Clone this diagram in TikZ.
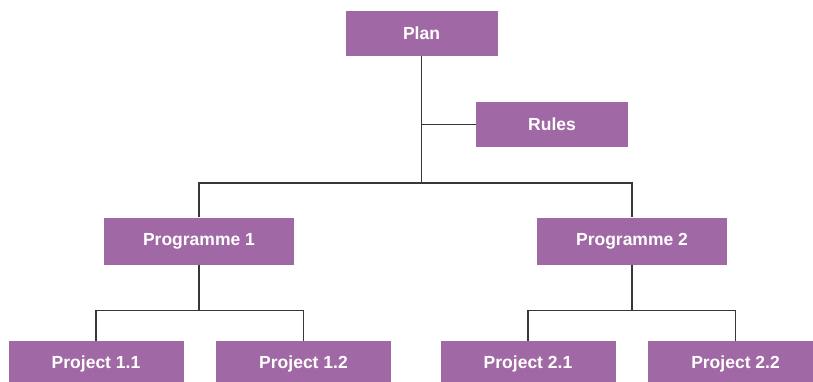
\documentclass[tikz,border=0pt]{standalone}
\usepackage{fontspec}
\setmainfont{Liberation Sans}
\definecolor{boxpurple}{RGB}{160,104,164}
\definecolor{linegray}{RGB}{55,55,55}
\tikzset{
  orgbox/.style={fill=boxpurple, draw=none, text=white, font=\bfseries\fontsize{17.5}{20}\selectfont, inner sep=0pt, anchor=center},
  planbox/.style={orgbox, minimum width=152pt, minimum height=45pt},
  progbox/.style={orgbox, minimum width=190pt, minimum height=47pt},
  projbox/.style={orgbox, minimum width=175pt, minimum height=46pt},
  link/.style={draw=linegray, line width=1.1pt}
}
\begin{document}
\begin{tikzpicture}[x=1pt,y=-1pt]
\useasboundingbox (0,0) rectangle (813,381);
\clip (0,0) rectangle (813,381);
\node[planbox] (plan) at (421.5,33.5) {Plan};
\node[planbox] (rules) at (552,124.5) {Rules};
\node[progbox] (prog1) at (199,241) {Programme 1};
\node[progbox] (prog2) at (632,241) {Programme 2};
\node[projbox] (p11) at (96,364) {Project 1.1};
\node[projbox] (p12) at (303.5,364) {Project 1.2};
\node[projbox] (p21) at (528,364) {Project 2.1};
\node[projbox] (p22) at (735.5,364) {Project 2.2};
\coordinate (bus) at (421.5,183);
\coordinate (bus1) at (199,310.5);
\coordinate (bus2) at (632,310.5);
\draw[link] (plan.south) -- (bus);
\draw[link] (plan.south |- rules.west) -- (rules.west);
\draw[link] (prog1.north) |- (bus) -| (prog2.north);
\draw[link] (prog1.south) -- (bus1);
\draw[link] (p11.north) |- (bus1) -| (p12.north);
\draw[link] (prog2.south) -- (bus2);
\draw[link] (p21.north) |- (bus2) -| (p22.north);
\end{tikzpicture}
\end{document}
